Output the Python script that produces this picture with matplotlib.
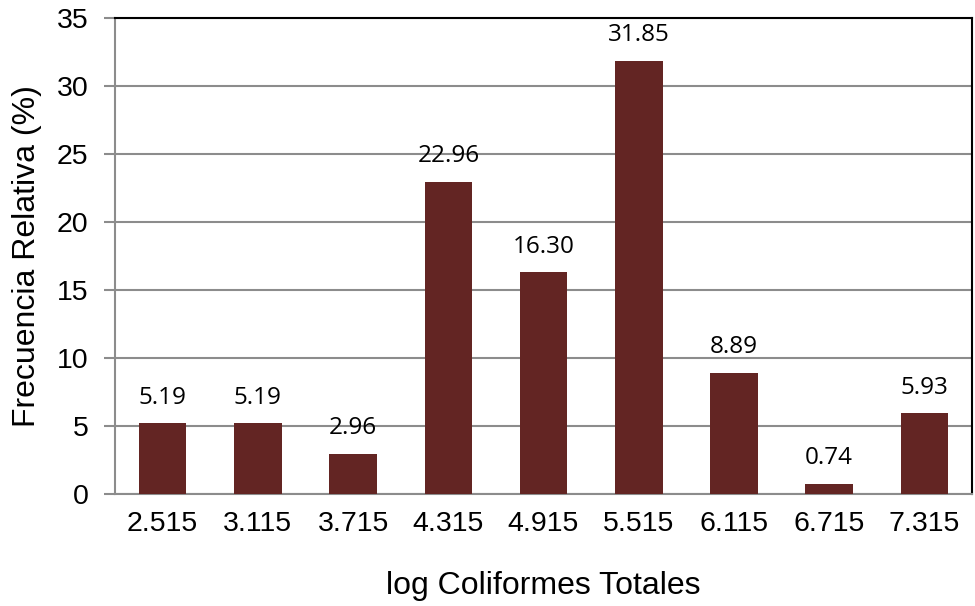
import numpy as np
import matplotlib
matplotlib.use("Agg")
import matplotlib.pyplot as plt

categories = ['2.515', '3.115', '3.715', '4.315', '4.915', '5.515', '6.115', '6.715', '7.315']
values = [5.19, 5.19, 2.96, 22.96, 16.30, 31.85, 8.89, 0.74, 5.93]

bar_color = '#632523'
grid_color = '#8c8c8c'

fig = plt.figure(figsize=(9.75, 6.06), dpi=100)
ax = fig.add_axes([0.118, 0.185, 0.879, 0.785])

x = np.arange(len(categories))
ax.bar(x, values, width=0.5, color=bar_color, zorder=3)

for xi, v in zip(x, values):
    ax.text(xi, v + 1.0, f'{v:.2f}', ha='center', va='bottom',
            fontsize=17.5, family='Open Sans', color='black', zorder=4)

ax.set_xlim(-0.5, len(categories) - 0.5)
ax.set_ylim(0, 35)
ax.set_yticks(np.arange(0, 36, 5))
ax.set_xticks(x)
ax.set_xticklabels(categories)
ax.yaxis.grid(True, color=grid_color, linewidth=1.5, zorder=0)

for lbl in ax.get_xticklabels() + ax.get_yticklabels():
    lbl.set_family('Liberation Sans')
    lbl.set_fontsize(20.5)

ax.tick_params(axis='x', length=0, pad=12)
ax.tick_params(axis='y', length=8, width=1.5, color=grid_color, pad=11)

ax.spines['left'].set_color(grid_color)
ax.spines['left'].set_linewidth(1.5)
ax.spines['bottom'].set_color(grid_color)
ax.spines['bottom'].set_linewidth(1.5)
ax.spines['top'].set_color('black')
ax.spines['top'].set_linewidth(1.5)
ax.spines['right'].set_color('black')
ax.spines['right'].set_linewidth(1.5)

ax.set_xlabel('log Coliformes Totales', fontsize=23, family='Liberation Sans', labelpad=25)
ax.set_ylabel('Frecuencia Relativa (%)', fontsize=23, family='Liberation Sans', labelpad=11)

fig.savefig('out.png', dpi=100)
